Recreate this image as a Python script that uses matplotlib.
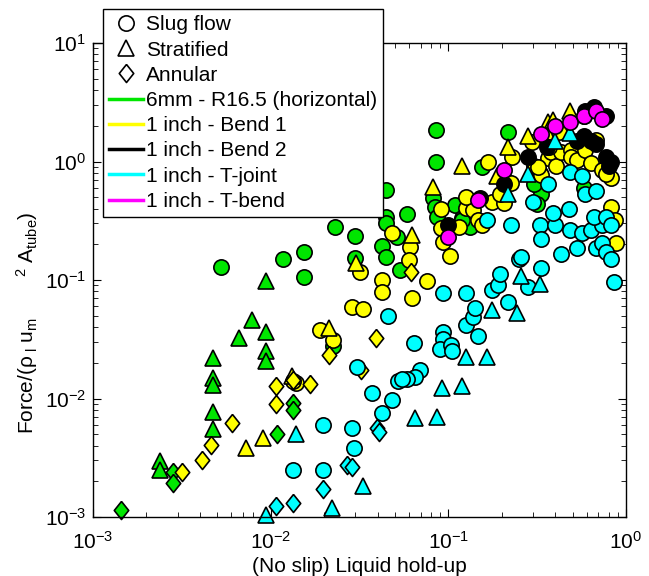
import numpy as np
import matplotlib.pyplot as plt
from matplotlib.lines import Line2D

plt.rcParams['font.family'] = ['Liberation Sans', 'DejaVu Sans']
plt.rcParams['mathtext.fontset'] = 'custom'
plt.rcParams['mathtext.rm'] = 'Liberation Sans'
plt.rcParams['mathtext.it'] = 'Liberation Sans:italic'
plt.rcParams['mathtext.default'] = 'regular'

# 6mm - R16.5 (horizontal)
g_slug_x = [0.00525, 0.0117, 0.0154, 0.0154, 0.0230, 0.0300, 0.0300, 0.0443, 0.0447, 0.0443,
            0.0589, 0.0514, 0.0423, 0.0535, 0.0851, 0.0851, 0.0818, 0.0840, 0.109, 0.086,
            0.120, 0.132, 0.155, 0.216, 0.315, 0.334, 0.315, 0.305, 0.580, 0.120, 0.0443, 0.0224]
g_slug_y = [0.129, 0.150, 0.172, 0.106, 0.280, 0.235, 0.154, 0.575, 0.340, 0.303,
            0.360, 0.231, 0.195, 0.121, 1.84, 1.0, 0.492, 0.413, 0.43, 0.34,
            0.335, 0.28, 0.90, 1.77, 0.63, 0.535, 0.44, 0.64, 0.60, 0.32, 0.157, 0.0275]
g_strat_x = [0.00942, 0.00785, 0.00664, 0.00942, 0.00942, 0.00942, 0.00473, 0.00473, 0.00473,
             0.00473, 0.00473, 0.00238, 0.00238]
g_strat_y = [0.0978, 0.0461, 0.0325, 0.0364, 0.0251, 0.0207, 0.0219, 0.0149, 0.0130,
             0.00768, 0.00553, 0.00297, 0.00250]
g_ann_x = [0.00282, 0.00282, 0.00143, 0.0134, 0.0134, 0.0109]
g_ann_y = [0.00240, 0.00194, 0.00115, 0.00916, 0.0080, 0.00500]

# 1 inch - Bend 1
y_slug_x = [0.0139, 0.0134, 0.0189, 0.0224, 0.0288, 0.0330, 0.0318, 0.0423, 0.0423, 0.0484,
            0.0612, 0.0600, 0.0759, 0.0624, 0.0910, 0.0914, 0.0933, 0.102, 0.115, 0.126,
            0.137, 0.146, 0.155, 0.126, 0.176, 0.206, 0.195, 0.167, 0.229, 0.225,
            0.295, 0.305, 0.330, 0.366, 0.366, 0.380, 0.405, 0.431, 0.418, 0.490,
            0.490, 0.530, 0.590, 0.634, 0.678, 0.731, 0.822, 0.776, 0.822, 0.870,
            0.877, 0.334, 0.320, 0.370]
y_slug_y = [0.0135, 0.0141, 0.0379, 0.0313, 0.0591, 0.0570, 0.117, 0.100, 0.0794, 0.250,
            0.190, 0.148, 0.0978, 0.0705, 0.400, 0.275, 0.210, 0.160, 0.280, 0.405,
            0.390, 0.322, 0.292, 0.50, 0.455, 0.445, 0.535, 1.0, 1.10, 0.655,
            1.47, 0.917, 0.80, 1.74, 1.07, 1.20, 0.92, 1.20, 1.78, 1.26,
            1.10, 1.03, 1.26, 0.97, 1.52, 0.85, 0.72, 0.79, 0.413, 0.32,
            0.205, 0.77, 0.90, 1.33]
y_strat_x = [0.0132, 0.00726, 0.00906, 0.0214, 0.0303, 0.0624, 0.0818, 0.120, 0.187, 0.216,
             0.279, 0.366, 0.390, 0.483]
y_strat_y = [0.0154, 0.00383, 0.00465, 0.0394, 0.139, 0.240, 0.61, 0.917, 0.755, 1.32,
             1.64, 2.16, 2.24, 2.67]
y_ann_x = [0.00317, 0.0041, 0.00461, 0.00605, 0.0107, 0.0107, 0.0134, 0.0166, 0.0214, 0.0392,
           0.0324, 0.0618]
y_ann_y = [0.00240, 0.00303, 0.00406, 0.00621, 0.0127, 0.00897, 0.0143, 0.0133, 0.0233, 0.0325,
           0.0175, 0.117]

# 1 inch - Bend 2
k_slug_x = [0.0996, 0.151, 0.206, 0.279, 0.360, 0.530, 0.580, 0.634, 0.678, 0.776,
            0.800, 0.822, 0.580, 0.660, 0.776, 0.590]
k_slug_y = [0.292, 0.492, 0.652, 1.10, 1.32, 1.49, 1.64, 1.49, 1.41, 1.10,
            0.917, 1.0, 2.42, 2.88, 2.42, 2.67]

# 1 inch - T-joint
c_slug_x = [0.0306, 0.0372, 0.0484, 0.0423, 0.0198, 0.0288, 0.0294, 0.0134, 0.0198, 0.0457,
            0.052, 0.0692, 0.0649, 0.0589, 0.0548, 0.064, 0.0933, 0.0933, 0.090, 0.104,
            0.105, 0.0933, 0.126, 0.125, 0.137, 0.141, 0.146, 0.176, 0.190, 0.195,
            0.216, 0.250, 0.258, 0.279, 0.334, 0.225, 0.165, 0.330, 0.334, 0.398,
            0.483, 0.565, 0.634, 0.731, 0.431, 0.530, 0.678, 0.731, 0.776, 0.822,
            0.860, 0.390, 0.480, 0.660, 0.776, 0.820, 0.366, 0.298, 0.483, 0.565,
            0.590, 0.678]
c_slug_y = [0.0185, 0.0111, 0.0097, 0.00754, 0.00600, 0.00564, 0.00383, 0.00250, 0.00250, 0.0495,
            0.0141, 0.0175, 0.0152, 0.0145, 0.0145, 0.0294, 0.0364, 0.0316, 0.0260, 0.0285,
            0.0251, 0.0776, 0.0776, 0.0417, 0.0488, 0.0581, 0.0337, 0.0821, 0.090, 0.112,
            0.0655, 0.150, 0.156, 0.0870, 0.126, 0.292, 0.322, 0.292, 0.220, 0.292,
            0.265, 0.250, 0.265, 0.292, 0.167, 0.185, 0.185, 0.205, 0.172, 0.151,
            0.0962, 0.37, 0.40, 0.34, 0.34, 0.292, 0.652, 0.455, 0.82, 0.76,
            0.535, 0.56]
c_strat_x = [0.0139, 0.0330, 0.0220, 0.00942, 0.176, 0.245, 0.255, 0.330, 0.126, 0.165,
             0.092, 0.120, 0.0649, 0.086, 0.216, 0.279, 0.398, 0.483]
c_strat_y = [0.00500, 0.00183, 0.00119, 0.00104, 0.0558, 0.0527, 0.108, 0.0920, 0.0224, 0.0224,
             0.0123, 0.0127, 0.00684, 0.0070, 0.535, 0.78, 1.48, 1.74]
c_ann_x = [0.027, 0.0288, 0.0198, 0.0134, 0.0107, 0.0396, 0.0407]
c_ann_y = [0.00275, 0.00264, 0.00172, 0.00131, 0.00124, 0.00564, 0.00524]

# 1 inch - T-bend
m_slug_x = [0.0996, 0.146, 0.206, 0.334, 0.398, 0.483, 0.580, 0.678, 0.731]
m_slug_y = [0.23, 0.47, 0.85, 1.70, 2.0, 2.16, 2.42, 2.67, 2.30]

labels = ['6mm - R16.5 (horizontal)', '1 inch - Bend 1', '1 inch - Bend 2',
          '1 inch - T-joint', '1 inch - T-bend']
colors = ['#00e600', '#ffff00', '#000000', '#00ffff', '#ff00ff']

diamond = [(0, 1), (0.8, 0), (0, -1), (-0.8, 0), (0, 1)]
MS_O, MS_T, MS_D = 11, 12, 13

fig = plt.figure(figsize=(6.49, 5.76), dpi=100)
ax = fig.add_axes([93 / 649, 59 / 576, 533 / 649, 474 / 576])


def draw(x, y, marker, color, ms):
    ax.plot(x, y, linestyle='none', marker=marker, ms=ms, mfc=color, mec='k',
            mew=1.2, clip_on=False)


draw(g_slug_x, g_slug_y, 'o', colors[0], MS_O)
draw(g_strat_x, g_strat_y, '^', colors[0], MS_T)
draw(g_ann_x, g_ann_y, diamond, colors[0], MS_D)
draw(y_slug_x, y_slug_y, 'o', colors[1], MS_O)
draw(y_strat_x, y_strat_y, '^', colors[1], MS_T)
draw(y_ann_x, y_ann_y, diamond, colors[1], MS_D)
draw(k_slug_x, k_slug_y, 'o', colors[2], MS_O)
draw(c_slug_x, c_slug_y, 'o', colors[3], MS_O)
draw(c_strat_x, c_strat_y, '^', colors[3], MS_T)
draw(c_ann_x, c_ann_y, diamond, colors[3], MS_D)
draw(m_slug_x, m_slug_y, 'o', colors[4], MS_O)

ax.set_xscale('log')
ax.set_yscale('log')
ax.set_xlim(1e-3, 1)
ax.set_ylim(1e-3, 10)
ax.tick_params(which='both', direction='in', top=True, right=True, labelsize=15)
ax.tick_params(which='major', length=6)
ax.tick_params(which='minor', length=3.5)
ax.tick_params(axis='x', which='major', pad=10)
ax.tick_params(axis='y', which='major', pad=5)
for s in ax.spines.values():
    s.set_linewidth(1.0)

ax.set_xlabel('(No slip) Liquid hold-up', fontsize=15, labelpad=3)
ax.set_ylabel(r'Force/($\rho_{\rm\ l}$ u$_{\rm m}$' + '       ' + r'$^{2}$ A$_{\rm tube}$)',
              fontsize=15)
ax.yaxis.set_label_coords(-0.10, 0.41)

# legend: flow regimes as markers, geometries as lines
handles = [
    Line2D([], [], linestyle='none', marker='o', ms=MS_O, mfc='w', mec='k', mew=1.2),
    Line2D([], [], linestyle='none', marker='^', ms=MS_T, mfc='w', mec='k', mew=1.2),
    Line2D([], [], linestyle='none', marker=diamond, ms=MS_D, mfc='w', mec='k', mew=1.2),
]
handles += [Line2D([], [], color=c, lw=2.5) for c in colors]
names = ['Slug flow', 'Stratified', 'Annular'] + labels
leg = ax.legend(handles, names, loc='upper left', bbox_to_anchor=(103 / 649, 1 - 9 / 576),
                bbox_transform=fig.transFigure, borderaxespad=0, fontsize=15,
                handlelength=1.6, handletextpad=0.15, labelspacing=0.3, borderpad=0.3,
                fancybox=False, framealpha=1, edgecolor='k')
leg.get_frame().set_linewidth(1.0)
leg.set_zorder(10)

plt.savefig('out.png', dpi=100)
